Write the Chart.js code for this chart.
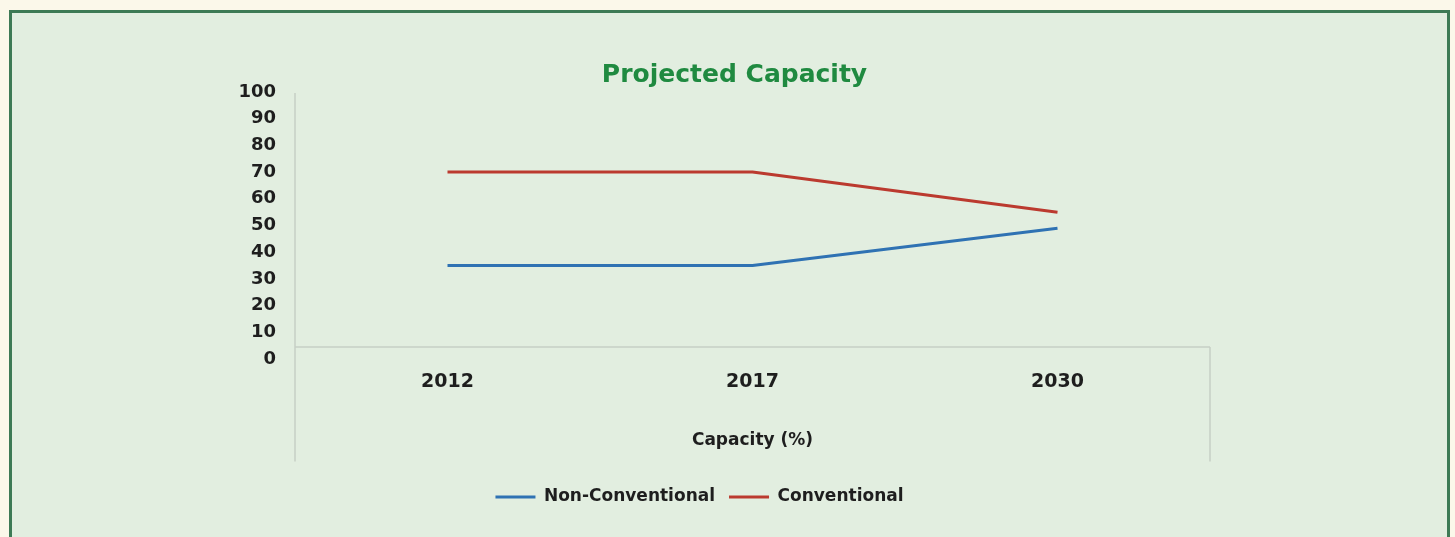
<!DOCTYPE html>
<html>
<head>
<meta charset="utf-8">
<title>Projected Capacity</title>
<script src="https://cdn.jsdelivr.net/npm/chart.js@4.4.1/dist/chart.umd.min.js"></script>
<style>
    html, body {
        margin: 0;
        padding: 0;
        width: 1455px;
        height: 537px;
        overflow: hidden;
        background: #fbf8ea;
    }
    .panel {
        position: absolute;
        left: 9px;
        top: 10px;
        width: 1435px;
        height: 600px;
        border: 3px solid #3d7a55;
        background: #e2eee0;
    }
    #chartCanvas {
        position: absolute;
        left: 0;
        top: 0;
    }
</style>
</head>
<body>
<div class="panel"></div>
<canvas id="chartCanvas" width="1455" height="537"></canvas>

<script>
// 数据
const years = ['2012', '2017', '2030'];
const nonConventional = [35, 35, 49];
const conventional = [70, 70, 55];
const yTicks = [0, 10, 20, 30, 40, 50, 60, 70, 80, 90, 100];

const FONT = "'DejaVu Sans', sans-serif";
const TEXT = '#1e1e1e';

// 坐标框线（左侧竖线、底部横线、右侧竖线）
const framePlugin = {
    id: 'frameLines',
    afterLayout(chart) {
        // 图例整体略偏左
        if (chart.legend) {
            chart.legend.left -= 35;
            chart.legend.right -= 35;
        }
    },
    beforeDatasetsDraw(chart) {
        const { ctx, chartArea, scales } = chart;
        const baseY = chartArea.bottom - 12;
        const lowY = scales.x.bottom - 13;
        ctx.save();
        ctx.strokeStyle = '#c6d0c5';
        ctx.lineWidth = 1.5;
        ctx.beginPath();
        ctx.moveTo(chartArea.left, chartArea.top + 1);
        ctx.lineTo(chartArea.left, lowY);
        ctx.moveTo(chartArea.left, baseY);
        ctx.lineTo(chartArea.right, baseY);
        ctx.moveTo(chartArea.right, baseY);
        ctx.lineTo(chartArea.right, lowY);
        ctx.stroke();
        ctx.restore();
    }
};

document.addEventListener('DOMContentLoaded', () => {
    const ctx = document.getElementById('chartCanvas').getContext('2d');

    new Chart(ctx, {
        type: 'line',
        data: {
            labels: years,
            datasets: [
                {
                    label: 'Non-Conventional',
                    data: nonConventional,
                    borderColor: '#2f72b3',
                    backgroundColor: '#2f72b3',
                    borderWidth: 3,
                    pointRadius: 0,
                    tension: 0,
                    borderJoinStyle: 'round'
                },
                {
                    label: 'Conventional',
                    data: conventional,
                    borderColor: '#bb3a2f',
                    backgroundColor: '#bb3a2f',
                    borderWidth: 3,
                    pointRadius: 0,
                    tension: 0,
                    borderJoinStyle: 'round'
                }
            ]
        },
        options: {
            responsive: false,
            devicePixelRatio: 1,
            animation: false,
            layout: {
                padding: { left: 14, right: 0, top: 0, bottom: 21.5 }
            },
            plugins: {
                title: {
                    display: true,
                    text: 'Projected Capacity',
                    color: '#1f8a40',
                    font: { family: FONT, size: 25, weight: 'bold', lineHeight: 1.2 },
                    padding: { top: 60, bottom: 2 }
                },
                legend: {
                    position: 'bottom',
                    labels: {
                        usePointStyle: true,
                        pointStyle: 'line',
                        pointStyleWidth: 40,
                        padding: 14,
                        color: TEXT,
                        font: { family: FONT, size: 17, weight: 'bold' }
                    }
                },
                tooltip: { enabled: false }
            },
            scales: {
                x: {
                    offset: true,
                    grid: { display: false, drawTicks: false },
                    border: { display: false },
                    ticks: {
                        padding: 12,
                        color: TEXT,
                        font: { family: FONT, size: 19, weight: 'bold' }
                    },
                    title: {
                        display: true,
                        text: 'Capacity (%)',
                        color: TEXT,
                        font: { family: FONT, size: 17, weight: 'bold', lineHeight: 1.2 },
                        padding: { top: 0, bottom: 23.3 }
                    },
                    afterFit(scale) {
                        scale.height = 115.5;
                    }
                },
                y: {
                    min: 0,
                    max: 100,
                    grid: { display: false, drawTicks: false },
                    border: { display: false },
                    afterBuildTicks(scale) {
                        scale.ticks = yTicks.map(v => ({ value: v }));
                    },
                    ticks: {
                        padding: 19,
                        color: TEXT,
                        font: { family: FONT, size: 18, weight: 'bold' }
                    },
                    afterFit(scale) {
                        scale.width = 281;
                    }
                },
                // 右侧留白
                yRight: {
                    position: 'right',
                    display: true,
                    grid: { display: false, drawTicks: false },
                    border: { display: false },
                    ticks: { display: false },
                    afterFit(scale) {
                        scale.width = 245;
                    }
                }
            }
        },
        plugins: [framePlugin]
    });
});
</script>
</body>
</html>
